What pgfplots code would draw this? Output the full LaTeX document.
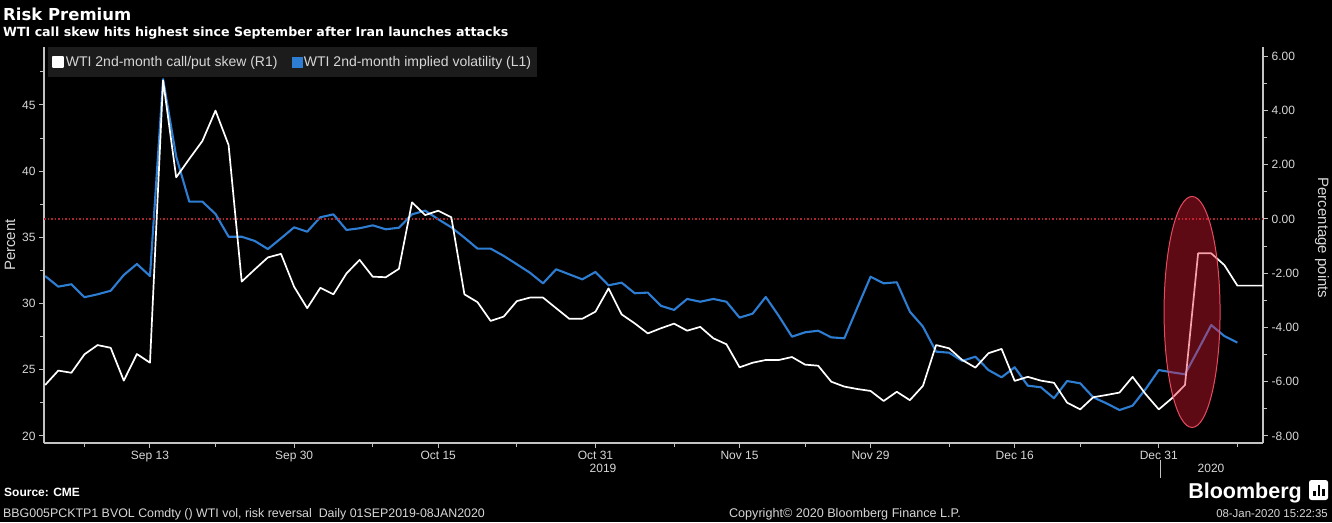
\documentclass[border=0pt]{standalone}
\usepackage{pgfplots}
\usepackage{pgfplotstable}
\pgfplotsset{compat=1.18}
\usepackage{fontspec}
\setmainfont{Liberation Sans}
\newfontfamily\djv{DejaVu Sans}
\definecolor{bbblue}{RGB}{45,125,210}
\definecolor{txtgrey}{RGB}{215,215,215}
\definecolor{axgrey}{RGB}{195,195,195}
\definecolor{dotred}{RGB}{175,35,45}
\definecolor{ellfill}{RGB}{235,25,50}
\definecolor{elledge}{RGB}{230,75,95}
\definecolor{legbg}{RGB}{28,28,28}

\pgfplotstableread{
i vol
0 32.08
1 31.28
2 31.46
3 30.48
4 30.70
5 30.97
6 32.16
7 32.99
8 32.08
9 46.96
10 41.10
11 37.70
12 37.70
13 36.77
14 35.05
15 35.05
16 34.73
17 34.12
18 34.93
19 35.76
20 35.43
21 36.52
22 36.74
23 35.56
24 35.69
25 35.91
26 35.61
27 35.73
28 36.74
29 37.02
30 36.37
31 35.76
32 34.98
33 34.15
34 34.15
35 33.60
36 32.97
37 32.33
38 31.53
39 32.59
40 32.21
41 31.83
42 32.39
43 31.38
44 31.58
45 30.78
46 30.83
47 29.83
48 29.52
49 30.35
50 30.14
51 30.35
52 30.14
53 28.94
54 29.24
55 30.50
56 29.06
57 27.50
58 27.83
59 27.95
60 27.45
61 27.38
62 29.72
63 32.03
64 31.53
65 31.61
66 29.39
67 28.26
68 26.37
69 26.29
70 25.67
71 25.99
72 24.98
73 24.43
74 25.19
75 23.80
76 23.68
77 22.85
78 24.15
79 23.98
80 22.92
81 22.47
82 21.96
83 22.29
84 23.55
85 24.98
86 24.81
87 24.66
88 26.50
89 28.38
90 27.55
91 27.05
}\voltable

\pgfplotstableread{
i skew
0 -6.12
1 -5.59
2 -5.67
3 -4.99
4 -4.65
5 -4.75
6 -5.96
7 -4.98
8 -5.30
9 5.10
10 1.53
11 2.21
12 2.87
13 3.99
14 2.72
15 -2.31
16 -1.86
17 -1.42
18 -1.29
19 -2.50
20 -3.29
21 -2.54
22 -2.78
23 -2.01
24 -1.51
25 -2.13
26 -2.15
27 -1.84
28 0.61
29 0.14
30 0.30
31 0.06
32 -2.78
33 -3.07
34 -3.76
35 -3.60
36 -3.03
37 -2.90
38 -2.90
39 -3.29
40 -3.68
41 -3.68
42 -3.42
43 -2.56
44 -3.52
45 -3.85
46 -4.22
47 -4.03
48 -3.86
49 -4.12
50 -3.98
51 -4.40
52 -4.62
53 -5.47
54 -5.30
55 -5.20
56 -5.20
57 -5.09
58 -5.37
59 -5.41
60 -6.00
61 -6.18
62 -6.27
63 -6.34
64 -6.71
65 -6.37
66 -6.68
67 -6.15
68 -4.65
69 -4.77
70 -5.20
71 -5.48
72 -4.95
73 -4.79
74 -5.97
75 -5.82
76 -5.96
77 -6.04
78 -6.77
79 -7.02
80 -6.57
81 -6.49
82 -6.40
83 -5.82
84 -6.46
85 -7.02
86 -6.61
87 -6.12
88 -1.27
89 -1.27
90 -1.70
91 -2.46
92.96 -2.46
}\skewtable

\begin{document}
\begin{tikzpicture}
\fill[black] (0pt,0pt) rectangle (1332pt,522pt);

\begin{axis}[
  at={(44pt,79pt)}, anchor=south west,
  scale only axis, width=1219pt, height=396pt,
  xmin=-0.09, xmax=92.96,
  ymin=19.47, ymax=49.38,
  axis x line*=bottom, axis y line*=left,
  axis line style={axgrey, line width=1.3pt},
  tick align=outside,
  major tick length=5pt, minor tick length=4pt,
  every tick/.style={axgrey, line width=1pt},
  ytick style={every major tick/.append style={line width=2pt}},
  xtick={8,19,30,42,53,63,74,85},
  xticklabels={Sep 13,Sep 30,Oct 15,Oct 31,Nov 15,Nov 29,Dec 16,Dec 31},
  minor xtick={3,13,25,36,48,58,69,79,91},
  ytick={20,25,30,35,40,45},
  minor ytick={22.5,27.5,32.5,37.5,42.5,47.5},
  /pgf/number format/assume math mode=true,
  tick label style={font=\fontsize{12}{14}\selectfont, text=txtgrey},
]
\addplot[bbblue, line width=2.1pt, line join=round] table[x=i,y=vol]{\voltable};
\end{axis}

\begin{axis}[
  at={(44pt,79pt)}, anchor=south west,
  scale only axis, width=1219pt, height=396pt,
  xmin=-0.09, xmax=92.96,
  ymin=-8.258, ymax=6.333,
  axis x line=none, axis y line*=right,
  axis line style={axgrey, line width=1.3pt},
  tick align=outside,
  major tick length=5pt, minor tick length=4pt,
  every tick/.style={axgrey, line width=1pt},
  ytick={-8,-6,-4,-2,0,2,4,6},
  minor ytick={-7,-5,-3,-1,1,3,5},
  yticklabel={\pgfmathprintnumber[fixed,fixed zerofill,precision=2]{\tick}},
  /pgf/number format/assume math mode=true,
  tick label style={font=\fontsize{12}{14}\selectfont, text=txtgrey},
  legend columns=2,
  legend style={fill=legbg, draw=none, text=txtgrey,
    font=\fontsize{14}{16}\selectfont,
    at={(0.0033,1)}, anchor=north west,
    inner xsep=4pt, inner ysep=7pt,
    /tikz/every even column/.append style={column sep=12pt}},
  legend image code/.code={\fill[#1] (0pt,-5pt) rectangle (10pt,5pt);},
]
\addplot[dotred, dotted, line width=1.5pt, forget plot] coordinates {(-0.09,0) (92.96,0)};
\addplot[white, line width=1.7pt, line join=round] table[x=i,y=skew]{\skewtable};
\addlegendentry{WTI 2nd-month call/put skew (R1)}
\addlegendimage{bbblue}
\addlegendentry{WTI 2nd-month implied volatility (L1)}
\draw[fill=ellfill, fill opacity=0.4, draw=elledge, line width=1pt]
  (axis cs:87.54,-3.43) ellipse [x radius=28pt, y radius=115.5pt];
\end{axis}

% titles
\node[anchor=base west, text=white, inner sep=0pt] at (3pt,501pt) {\djv\bfseries\fontsize{16.5}{18}\selectfont Risk Premium};
\node[anchor=base west, text=white, inner sep=0pt] at (3pt,485pt) {\djv\bfseries\fontsize{12.6}{14}\selectfont WTI call skew hits highest since September after Iran launches attacks};

% axis titles
\node[rotate=90, text=txtgrey, inner sep=0pt] at (10pt,277pt) {\fontsize{15}{17}\selectfont Percent};
\node[rotate=-90, text=txtgrey, inner sep=0pt] at (1322pt,284pt) {\fontsize{15}{17}\selectfont Percentage points};

% year labels
\node[anchor=base, text=txtgrey, inner sep=0pt] at (603pt,49.5pt) {\fontsize{12}{14}\selectfont 2019};
\node[anchor=base, text=txtgrey, inner sep=0pt] at (1211pt,49.5pt) {\fontsize{12}{14}\selectfont 2020};
\draw[axgrey, line width=0.8pt] (1160.5pt,62pt) -- (1160.5pt,44pt);

% footer
\node[anchor=base west, text=white, inner sep=0pt] at (4pt,25.5pt) {\bfseries\fontsize{12}{14}\selectfont Source: CME};
\node[anchor=base west, text=txtgrey, inner sep=0pt] at (3pt,5pt) {\fontsize{12.4}{14}\selectfont BBG005PCKTP1 BVOL Comdty () WTI vol, risk reversal\ \ Daily 01SEP2019-08JAN2020};
\node[anchor=base, text=txtgrey, inner sep=0pt] at (845pt,5pt) {\fontsize{12.6}{14}\selectfont Copyright\textcopyright\ 2020 Bloomberg Finance L.P.};
\node[anchor=base east, text=txtgrey, inner sep=0pt] at (1328pt,5pt) {\fontsize{11.4}{13}\selectfont 08-Jan-2020 15:22:35};
\node[anchor=base east, text=white, inner sep=0pt] at (1302pt,24pt) {\bfseries\fontsize{21.5}{24}\selectfont Bloomberg};
\fill[white, rounded corners=2.5pt] (1309pt,22pt) rectangle (1328pt,42pt);
\fill[black] (1313pt,26pt) rectangle (1315.5pt,31pt);
\fill[black] (1317.5pt,26pt) rectangle (1320pt,37pt);
\fill[black] (1322pt,26pt) rectangle (1324.5pt,33pt);

\pgfresetboundingbox
\path[use as bounding box] (0pt,0pt) rectangle (1332pt,522pt);
\end{tikzpicture}
\end{document}
